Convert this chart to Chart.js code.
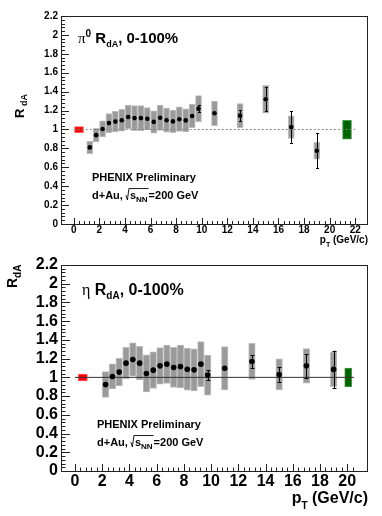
<!DOCTYPE html>
<html>
<head>
<meta charset="utf-8">
<script src="https://cdn.jsdelivr.net/npm/chart.js@4.4.1/dist/chart.umd.min.js"></script>
<style>
  html, body { margin: 0; padding: 0; background: #fff; }
  #wrap { position: relative; width: 382px; height: 516px; }
  canvas { position: absolute; left: 0; }
  #c-pi0 { top: 0; }
  #c-eta { top: 250px; }
</style>
</head>
<body>
<div id="wrap">
  <canvas id="c-pi0" width="382" height="250"></canvas>
  <canvas id="c-eta" width="382" height="266"></canvas>
</div>
<script>
// pi0 R_dA, 0-100%
const pi0Pt   = [1.25, 1.75, 2.25, 2.75, 3.25, 3.75, 4.25, 4.75, 5.25, 5.75, 6.25, 6.75,
                 7.25, 7.75, 8.25, 8.75, 9.25, 9.75, 11, 13, 15, 17, 19];
const pi0R    = [0.81, 0.94, 1.005, 1.067, 1.083, 1.097, 1.132, 1.12, 1.12, 1.113, 1.08, 1.124,
                 1.098, 1.085, 1.108, 1.096, 1.143, 1.22, 1.171, 1.146, 1.32, 1.025, 0.775];
const pi0Stat = [0.01, 0.01, 0.01, 0.01, 0.01, 0.01, 0.01, 0.01, 0.01, 0.01, 0.01, 0.01,
                 0.01, 0.01, 0.01, 0.01, 0.02, 0.04, 0.02, 0.058, 0.127, 0.166, 0.187];
const pi0Sys  = [0.065, 0.072, 0.085, 0.1, 0.11, 0.116, 0.125, 0.132, 0.132, 0.118, 0.118, 0.134,
                 0.127, 0.12, 0.13, 0.123, 0.125, 0.137, 0.13, 0.127, 0.148, 0.12, 0.088];
const pi0NormX = 0.41,  pi0Norm = [0.966, 1.03];
const pi0GlobX = 21.36, pi0Glob = [0.896, 1.097];
const pi0XRange = [0, 22];

// eta R_dA, 0-100%
const etaPt   = [2.25, 2.75, 3.25, 3.75, 4.25, 4.75, 5.25, 5.75, 6.25, 6.75, 7.25,
                 7.75, 8.25, 8.75, 9.25, 9.75, 11, 13, 15, 17, 19];
const etaR    = [0.924, 1.01, 1.056, 1.152, 1.19, 1.152, 1.042, 1.077, 1.123, 1.141, 1.106,
                 1.116, 1.087, 1.08, 1.141, 1.024, 1.098, 1.17, 1.031, 1.123, 1.085];
const etaStat = [0.02, 0.02, 0.02, 0.02, 0.02, 0.035, 0.02, 0.02, 0.02, 0.02, 0.02,
                 0.02, 0.02, 0.02, 0.03, 0.053, 0.03, 0.07, 0.078, 0.125, 0.2];
const etaSys  = [0.138, 0.134, 0.148, 0.168, 0.178, 0.18, 0.198, 0.195, 0.196, 0.205, 0.214,
                 0.23, 0.225, 0.225, 0.24, 0.214, 0.232, 0.193, 0.166, 0.184, 0.184];
const etaNormX = 0.58,  etaNorm = [0.963, 1.034];
const etaGlobX = 20.07, etaGlob = [0.898, 1.10];
const etaXRange = [0, 20.5];

const yRange = [0, 2.2];
const yStep = 0.2, xStep = 2;

const SANS = '"Liberation Sans", Arial, Helvetica, sans-serif';
const SERIF = '"Liberation Serif", "DejaVu Serif", serif';

function runs(ctx, x, y, parts) {
  parts.forEach(p => {
    ctx.font = p[1];
    ctx.fillText(p[0], x, y + (p[2] || 0));
    x += ctx.measureText(p[0]).width;
  });
  return x;
}

// "d+Au, sqrt(s_NN)=200 GeV"
function energyLine(ctx, x, y, f) {
  const b = 'bold ' + f + 'px ' + SANS, s = 'bold ' + Math.round(f * 0.7) + 'px ' + SANS;
  x = runs(ctx, x, y, [['d+Au, ', b]]);
  const x0 = x;
  ctx.lineWidth = 0.9;
  ctx.beginPath();
  ctx.moveTo(x0, y - f * 0.35);
  ctx.lineTo(x0 + 1.5, y + 1);
  ctx.lineTo(x0 + 3, y - f * 0.95);
  x = runs(ctx, x0 + 4, y, [['s', b], ['NN', s, f * 0.3]]);
  ctx.lineTo(x + 1, y - f * 0.95);
  ctx.stroke();
  runs(ctx, x + 1, y, [['=200 GeV', b]]);
}

// frame, inward ticks and text of a ROOT-style pad
const padPlugin = {
  id: 'pad',
  afterDraw(chart, args, o) {
    const { ctx, chartArea: a, scales: { x, y } } = chart;
    ctx.save();
    ctx.strokeStyle = '#222';
    ctx.lineWidth = 1;
    ctx.strokeRect(a.left + 0.5, a.top + 0.5, a.width - 1, a.height);
    ctx.beginPath();
    const xm = x.max, ym = y.max;
    for (let i = 0; x.min + i * xStep / 5 <= xm + 1e-9; i++) {
      const px = Math.round(x.getPixelForValue(i * xStep / 5)) + 0.5;
      const len = i % 5 === 0 ? o.xTick : o.xTick / 2;
      ctx.moveTo(px, a.bottom);
      ctx.lineTo(px, a.bottom - len);
    }
    for (let i = 0; i * yStep / 5 <= ym + 1e-9; i++) {
      const py = Math.round(y.getPixelForValue(i * yStep / 5)) + 0.5;
      const len = i % 5 === 0 ? o.yTick : o.yTick / 2;
      ctx.moveTo(a.left, py);
      ctx.lineTo(a.left + len, py);
    }
    ctx.stroke();

    ctx.fillStyle = '#000';
    ctx.strokeStyle = '#000';
    ctx.textBaseline = 'alphabetic';
    ctx.textAlign = 'left';
    const t = o.title;
    runs(ctx, t.x, t.y, [
      [t.greek, t.fs + 'px ' + SERIF],
      [t.sup, 'bold ' + Math.round(t.fs * 0.65) + 'px ' + SANS, -t.fs * 0.38],
      [' R', 'bold ' + t.fs + 'px ' + SANS],
      ['dA', 'bold ' + Math.round(t.fs * 0.62) + 'px ' + SANS, t.fs * 0.28],
      [', 0-100%', 'bold ' + t.fs + 'px ' + SANS]
    ]);
    runs(ctx, o.note.x, o.note.y1, [['PHENIX Preliminary', 'bold ' + o.note.fs + 'px ' + SANS]]);
    energyLine(ctx, o.note.x, o.note.y2, o.note.fs);

    // x title, right aligned
    const xt = o.xTitle, fb = 'bold ' + xt.fs + 'px ' + SANS, fs = 'bold ' + Math.round(xt.fs * 0.65) + 'px ' + SANS;
    ctx.font = fb; const w1 = ctx.measureText('p').width, w3 = ctx.measureText(' (GeV/c)').width;
    ctx.font = fs; const w2 = ctx.measureText('T').width;
    runs(ctx, a.right - w1 - w2 - w3, xt.y, [['p', fb], ['T', fs, xt.fs * 0.35], [' (GeV/c)', fb]]);

    // y title, rotated
    const yt = o.yTitle;
    ctx.translate(yt.x, yt.y);
    ctx.rotate(-Math.PI / 2);
    runs(ctx, 0, 0, [['R', 'bold ' + yt.fs + 'px ' + SANS], [yt.gap + 'dA', 'bold ' + Math.round(yt.fs * 0.7) + 'px ' + SANS, yt.fs * 0.25]]);
    ctx.restore();
  }
};

// vertical statistical error bars on the point dataset
const errPlugin = {
  id: 'err',
  afterDatasetsDraw(chart, args, o) {
    const { ctx, scales: { x, y } } = chart;
    ctx.save();
    ctx.strokeStyle = '#000';
    ctx.lineWidth = 1;
    chart.data.datasets.forEach(ds => {
      if (!ds.statErr) return;
      ds.data.forEach((p, i) => {
        const e = ds.statErr[i];
        const px = Math.round(x.getPixelForValue(p.x)) + 0.5;
        const py = y.getPixelForValue(p.y);
        const top = y.getPixelForValue(p.y + e), bot = y.getPixelForValue(p.y - e);
        if (py - top <= ds.pointRadius + 0.5) return;
        ctx.beginPath();
        ctx.moveTo(px, top); ctx.lineTo(px, py - ds.pointRadius);
        ctx.moveTo(px, py + ds.pointRadius); ctx.lineTo(px, bot);
        ctx.moveTo(px - o.cap, Math.round(top) + 0.5); ctx.lineTo(px + o.cap, Math.round(top) + 0.5);
        ctx.moveTo(px - o.cap, Math.round(bot) + 0.5); ctx.lineTo(px + o.cap, Math.round(bot) + 0.5);
        ctx.stroke();
      });
    });
    ctx.restore();
  }
};

function makePad(id, s) {
  const boxData = s.pt.map((p, i) => ({ x: p, y: [s.r[i] - s.sys[i], s.r[i] + s.sys[i]] }));
  const ptData = s.pt.map((p, i) => ({ x: p, y: s.r[i] }));
  const tickFont = { family: SANS, size: s.tickFs, weight: 'bold' };
  new Chart(document.getElementById(id), {
    type: 'scatter',
    data: {
      datasets: [
        { type: 'scatter', data: ptData, statErr: s.stat, pointRadius: s.radius, pointBorderWidth: 0,
          backgroundColor: '#000', borderColor: '#000', order: 1 },
        { type: 'line', data: [{ x: s.xRange[0], y: 1 }, { x: s.xRange[1], y: 1 }],
          borderColor: s.lineColor, borderDash: s.lineDash, borderWidth: 1, pointRadius: 0, order: 2 },
        { type: 'bar', data: boxData, backgroundColor: '#9a9a9a', borderColor: '#bdbdbd', borderWidth: 1,
          borderSkipped: false, barThickness: s.boxW, grouped: false, order: 3 },
        { type: 'bar', data: [{ x: s.normX, y: s.norm }], backgroundColor: '#ff0000', borderColor: '#ff5a5a',
          borderWidth: 1, borderSkipped: false, barThickness: 9, grouped: false, order: 3 },
        { type: 'bar', data: [{ x: s.globX, y: s.glob }], backgroundColor: '#006400', borderColor: '#4c9a4c',
          borderWidth: 1, borderSkipped: false, barThickness: s.globW, grouped: false, order: 3 }
      ]
    },
    options: {
      responsive: false,
      animation: false,
      devicePixelRatio: 1,
      layout: { padding: { top: s.top, right: 14, left: 0, bottom: 0 } },
      plugins: {
        legend: { display: false },
        tooltip: { enabled: false },
        err: { cap: s.cap },
        pad: s.pad
      },
      scales: {
        x: {
          type: 'linear', min: s.xRange[0], max: s.xRange[1],
          grid: { display: false, drawTicks: false }, border: { display: false },
          ticks: { stepSize: xStep, includeBounds: false, autoSkip: false, maxRotation: 0,
                   padding: s.xPad, color: '#000', font: tickFont },
          afterFit: sc => { sc.height = s.xAxisH; }
        },
        y: {
          type: 'linear', min: yRange[0], max: yRange[1],
          grid: { display: false, drawTicks: false }, border: { display: false },
          ticks: { stepSize: yStep, autoSkip: false, padding: s.yPad, color: '#000', font: tickFont,
                   callback: v => String(+v.toFixed(1)) },
          afterFit: sc => { sc.width = 61; }
        }
      }
    },
    plugins: [errPlugin, padPlugin]
  });
}

makePad('c-pi0', {
  pt: pi0Pt, r: pi0R, stat: pi0Stat, sys: pi0Sys,
  normX: pi0NormX, norm: pi0Norm, globX: pi0GlobX, glob: pi0Glob, globW: 9,
  xRange: pi0XRange, top: 16, xAxisH: 26, tickFs: 10, xPad: 0, yPad: 3,
  radius: 2.3, boxW: 6, cap: 1.5, lineColor: '#888', lineDash: [2, 2],
  pad: {
    xTick: 6, yTick: 8,
    title: { x: 78, y: 43, fs: 15, greek: 'π', sup: '0' },
    note: { x: 92, y1: 181, y2: 199, fs: 11 },
    xTitle: { y: 243, fs: 10 },
    yTitle: { x: 24, y: 118, fs: 13, gap: ' ' }
  }
});

makePad('c-eta', {
  pt: etaPt, r: etaR, stat: etaStat, sys: etaSys,
  normX: etaNormX, norm: etaNorm, globX: etaGlobX, glob: etaGlob, globW: 7,
  xRange: etaXRange, top: 15, xAxisH: 45, tickFs: 16, xPad: 1, yPad: 3,
  radius: 2.8, boxW: 6.5, cap: 2, lineColor: '#333', lineDash: [],
  pad: {
    xTick: 7, yTick: 9,
    title: { x: 82, y: 45, fs: 16, greek: 'η', sup: '' },
    note: { x: 97, y1: 178, y2: 196, fs: 11 },
    xTitle: { y: 253, fs: 16 },
    yTitle: { x: 17, y: 38, fs: 14, gap: '' }
  }
});
</script>
</body>
</html>
